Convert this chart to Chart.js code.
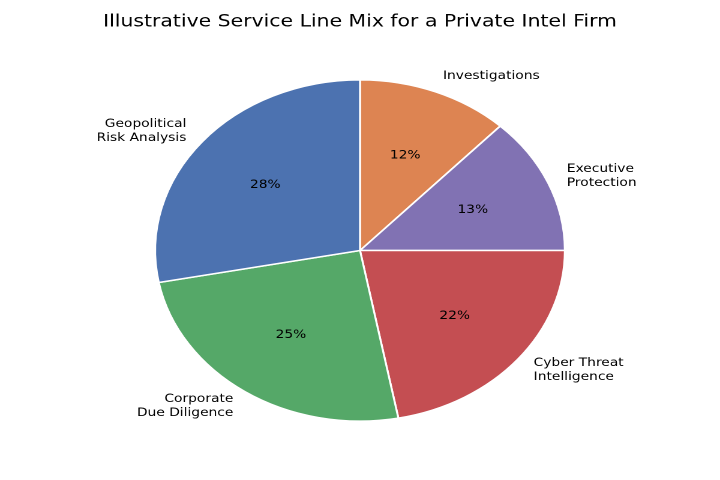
<!DOCTYPE html>
<html>
<head>
<meta charset="utf-8">
<script src="https://cdn.jsdelivr.net/npm/chart.js@4.4.0/dist/chart.umd.min.js"></script>
<style>
  html, body { margin: 0; padding: 0; background: #fff; }
  #wrap { width: 600px; height: 480px; transform: scaleX(1.2); transform-origin: 0 0; }
</style>
</head>
<body>
<div id="wrap"><canvas id="chart" width="600" height="480"></canvas></div>
<script>
'use strict';
// data, clockwise from 12 o'clock
var sliceLabels = ['Investigations', 'Executive\nProtection', 'Cyber Threat\nIntelligence', 'Corporate\nDue Diligence', 'Geopolitical\nRisk Analysis'];
var sliceShares = [12, 13, 22, 25, 28];
var sliceColors = ['#DD8452', '#8172B3', '#C44E52', '#55A868', '#4C72B0'];
var chartTitle = 'Illustrative Service Line Mix for a Private Intel Firm';

var fontName = '"DejaVu Sans", sans-serif';

// draws the % inside and the names outside, like matplotlib autopct
var pieText = {
  id: 'pieText',
  afterDatasetsDraw: function(chart){
    var ctx = chart.ctx;
    var arcs = chart.getDatasetMeta(0).data;
    var total = sliceShares.reduce(function(a, b){ return a + b; }, 0);
    ctx.save();
    ctx.fillStyle = '#000';
    ctx.font = '11.5px ' + fontName;
    ctx.textBaseline = 'middle';
    for (var i = 0; i < arcs.length; i++){
      var a = arcs[i];
      var mid = (a.startAngle + a.endAngle) / 2;
      var r = a.outerRadius;
      // percentage
      ctx.textAlign = 'center';
      ctx.fillText(Math.round(sliceShares[i] / total * 100) + '%', a.x + Math.cos(mid) * r * 0.6, a.y + Math.sin(mid) * r * 0.6);
      // name
      var lx = a.x + Math.cos(mid) * r * 1.1;
      var ly = a.y + Math.sin(mid) * r * 1.1;
      var lines = sliceLabels[i].split('\n');
      var lh = 14;
      ctx.textAlign = Math.cos(mid) >= 0 ? 'left' : 'right';
      for (var k = 0; k < lines.length; k++){
        ctx.fillText(lines[k], lx, ly + (k - (lines.length - 1) / 2) * lh);
      }
    }
    ctx.restore();
  }
};

var chart = new Chart(document.getElementById('chart').getContext('2d'), {
  type: 'pie',
  data: {
    labels: sliceLabels,
    datasets: [{
      data: sliceShares,
      backgroundColor: sliceColors,
      borderColor: '#ffffff',
      borderWidth: 1.6
    }]
  },
  options: {
    responsive: false,
    animation: false,
    devicePixelRatio: 2,
    layout: { padding: { top: 0, bottom: 58, left: 40, right: 40 } },
    plugins: {
      legend: { display: false },
      tooltip: { enabled: false },
      title: {
        display: true,
        text: chartTitle,
        color: '#000',
        font: { family: fontName, size: 17, weight: 'normal' },
        padding: { top: 12, bottom: 46.6 }
      }
    }
  },
  plugins: [pieText]
});
</script>
</body>
</html>
